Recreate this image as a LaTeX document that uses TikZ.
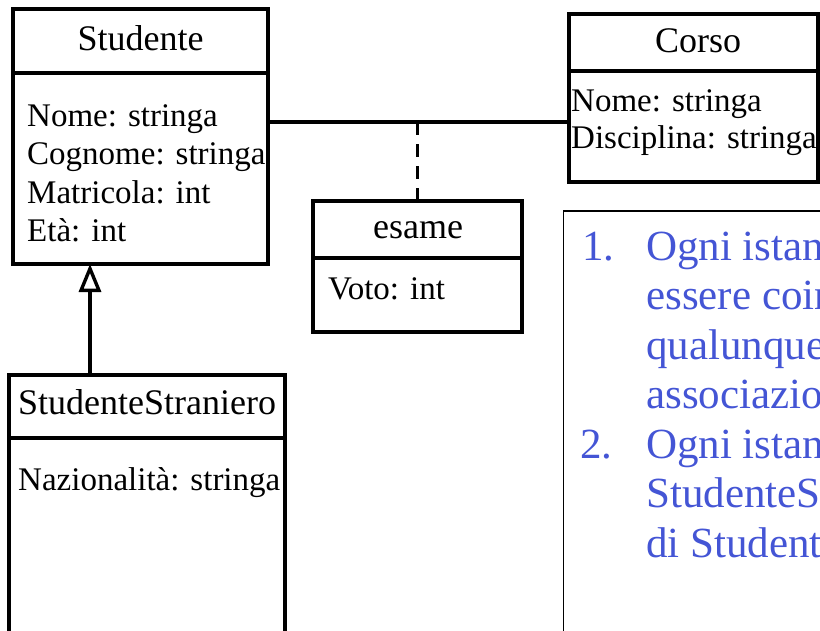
\documentclass[tikz,border=0pt]{standalone}
\usepackage{fontspec}
\setmainfont{Liberation Serif}
\usetikzlibrary{arrows.meta}
\definecolor{noteblue}{RGB}{68,85,213}
\newcommand\umltitlefont{\fontsize{36}{40}\selectfont}
\newcommand\umlattrfont{\fontsize{33}{38.7}\selectfont}
\newcommand\notefont{\fontsize{43}{49.5}\selectfont}
\tikzset{
  umlbox/.style={draw, line width=3.4pt, inner sep=0pt, outer sep=0pt, anchor=north west},
  umltitle/.style={anchor=base, inner sep=0pt, font=\umltitlefont},
  umlattr/.style={anchor=base west, inner sep=0pt, font=\umlattrfont},
  divider/.style={line width=3.4pt},
  noteline/.style={anchor=base west, inner sep=0pt, font=\notefont, text=noteblue},
}
\begin{document}
\begin{tikzpicture}[x=1pt,y=-1pt]
\useasboundingbox (0,0) rectangle (820,630);
\clip (0,0) rectangle (820,630);
% Studente
\node[umlbox, minimum width=255pt, minimum height=255pt] (stud) at (13,9) {};
\draw[divider] (stud.west |- 0,73) -- (stud.east |- 0,73);
\node[umltitle] (studT) at (140.5,50) {Studente};
\node[umlattr] (s1) at (27,126) {Nome: stringa};
\node[umlattr] (s2) at (27,164.5) {Cognome: stringa};
\node[umlattr] (s3) at (27,203) {Matricola: int};
\node[umlattr] (s4) at (27,241.5) {Età: int};
% Corso
\node[umlbox, minimum width=249pt, minimum height=168pt] (corso) at (569,14) {};
\draw[divider] (corso.west |- 0,71) -- (corso.east |- 0,71);
\node[umltitle] (corsoT) at (698,52) {Corso};
\node[umlattr] (c1) at (571,111) {Nome: stringa};
\node[umlattr] (c2) at (571,148) {Disciplina: stringa};
% esame
\node[umlbox, minimum width=209pt, minimum height=131pt] (esame) at (313,201) {};
\draw[divider] (esame.west |- 0,258) -- (esame.east |- 0,258);
\node[umltitle] (esameT) at (418,238) {esame};
\node[umlattr] (e1) at (328,299) {Voto: int};
% StudenteStraniero
\node[umlbox, minimum width=276pt, minimum height=290pt] (ss) at (9,375) {};
\draw[divider] (ss.west |- 0,438) -- (ss.east |- 0,438);
\node[umltitle] (ssT) at (147,414) {StudenteStraniero};
\node[umlattr] (ss1) at (18,490) {Nazionalità: stringa};
% association
\coordinate (assoc) at (esame.north |- 0,122);
\draw[line width=3.4pt] (stud.east |- assoc) -- (corso.west |- assoc);
\draw[line width=3.4pt, dash pattern=on 13pt off 9pt] (assoc) -- (esame.north);
% generalization
\draw[line width=3.4pt, -{Triangle[open, length=28pt, width=22pt, line width=3.4pt]}] (ss.north -| 90,0) -- (stud.south -| 90,0);
% note
\node[draw, line width=1.8pt, inner sep=0pt, outer sep=0pt, anchor=north west, minimum width=280pt, minimum height=440pt] (note) at (563.5,211) {};
\node[noteline] (n1n) at (582,260) {1.};
\node[noteline] (n1a) at (646,260) {Ogni istanza di Studente può};
\node[noteline] (n1b) at (646,309.5) {essere coinvolta in un numero};
\node[noteline] (n1c) at (646,359) {qualunque di istanze della};
\node[noteline] (n1d) at (646,408) {associazione esame};
\node[noteline] (n2n) at (580,458) {2.};
\node[noteline] (n2a) at (646,458) {Ogni istanza di};
\node[noteline] (n2b) at (646,507) {StudenteStraniero è anche};
\node[noteline] (n2c) at (646,557) {di Studente};
\end{tikzpicture}
\end{document}
